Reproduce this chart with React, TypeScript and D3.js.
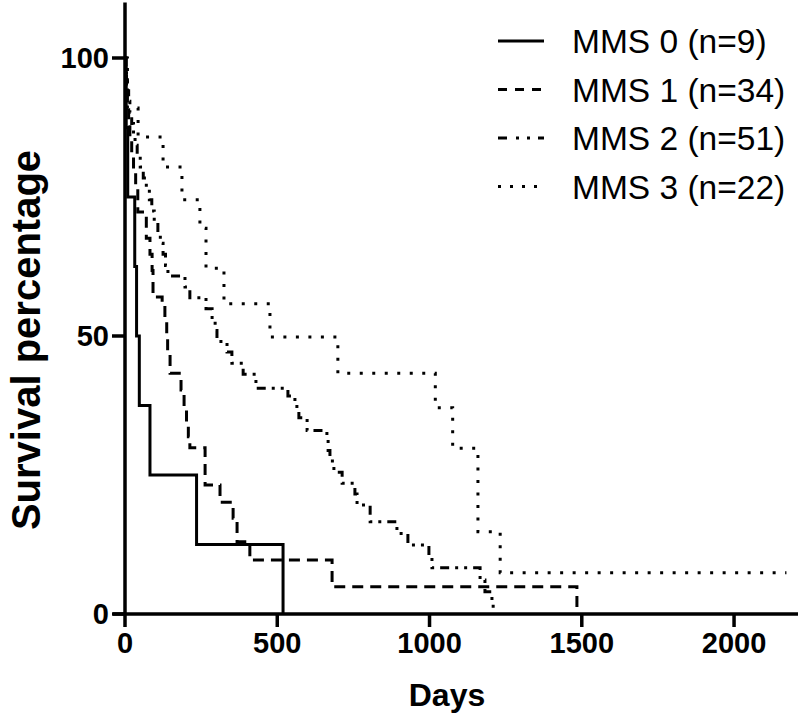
import React from "react";
import * as d3 from "d3";

// ---- data ----
const seriesNames = ["MMS 0 (n=9)", "MMS 1 (n=34)", "MMS 2 (n=51)", "MMS 3 (n=22)"];

const mms0Days = [0, 4, 9, 32, 38, 47, 82, 235, 519];
const mms0Surv = [100, 87.5, 75, 62.5, 50, 37.5, 25, 12.5, 0];

const mms1Days = [0, 2, 5, 8, 12, 16, 22, 28, 35, 42, 70, 82, 89, 92, 122, 131, 137, 140, 148, 184, 194, 202, 208, 213, 263, 312, 355, 368, 410, 680, 1484];
const mms1Surv = [100, 97.1, 94.1, 91.2, 88.2, 85.3, 82.4, 79.4, 76.5, 72.3, 67.6, 64.7, 61.8, 57.0, 55.9, 52.9, 50.0, 47.1, 43.3, 40.3, 37.4, 34.5, 31.9, 29.9, 23.2, 20.1, 17.2, 13.0, 9.7, 4.9, 0];

const mms2Days = [0, 3, 5, 8, 12, 16, 22, 28, 33, 40, 50, 60, 70, 80, 88, 96, 108, 116, 125, 133, 141, 197, 213, 266, 286, 296, 302, 335, 351, 388, 430, 535, 558, 571, 598, 663, 667, 673, 686, 713, 755, 762, 805, 893, 929, 998, 1008, 1166, 1182, 1205, 1209];
const mms2Surv = [100, 98, 96.1, 94.1, 92.2, 90.2, 88.2, 86.3, 84.3, 82.4, 80.4, 78.4, 76.5, 74.5, 72.5, 70.6, 68.6, 66.7, 64.7, 62.7, 60.8, 58.8, 56.9, 54.9, 52.9, 51, 49, 47.1, 45.1, 43.1, 40.6, 39.2, 37.3, 35.3, 33.0, 31.4, 29.4, 27.5, 25.5, 23.5, 21.6, 19.6, 16.6, 14.5, 12.4, 10.2, 8.3, 6.1, 4.0, 2.0, 0];

const mms3Days = [0, 8, 43, 125, 187, 246, 266, 325, 476, 699, 1019, 1076, 1159, 1232, 2172];
const mms3Surv = [100, 91, 85.8, 80.4, 74.5, 69.4, 62.2, 55.8, 49.8, 43.3, 37.1, 29.8, 14.8, 7.4, 7.4];

const xTicks = [0, 500, 1000, 1500, 2000];
const yTicks = [0, 50, 100];

const dashes = ["none", "11,7", "9,6,3,6,3,6", "3,9.5"];
const legendDashes = ["none", "9,8", "9,9,3,8,3,8", "3,9"];

export default function App() {
  const W = 800, H = 721;
  const x = d3.scaleLinear().domain([0, 2210]).range([125, 798]);
  const y = d3.scaleLinear().domain([0, 110]).range([614, 2.4]);

  const series = [
    { days: mms0Days, surv: mms0Surv },
    { days: mms1Days, surv: mms1Surv },
    { days: mms2Days, surv: mms2Surv },
    { days: mms3Days, surv: mms3Surv },
  ];

  const line = d3
    .line<[number, number]>()
    .x((d) => x(d[0]))
    .y((d) => y(d[1]))
    .curve(d3.curveStepAfter);

  const font = "'Liberation Sans', Arial, sans-serif";

  return (
    <div style={{ position: "absolute", left: 0, top: 0 }}>
      <svg width={W} height={H} style={{ display: "block", background: "#fff" }}>
        {/* curves */}
        {series.map((s, i) => (
          <path
            key={i}
            d={line(s.days.map((d, j) => [d, s.surv[j]] as [number, number])) || ""}
            fill="none"
            stroke="#000"
            strokeWidth={3}
            strokeDasharray={dashes[i]}
          />
        ))}

        {/* axes */}
        <line x1={x(0)} x2={x(0)} y1={y(110)} y2={y(0)} stroke="#000" strokeWidth={3.5} />
        <line x1={113} x2={x(2210)} y1={y(0)} y2={y(0)} stroke="#000" strokeWidth={3.5} />
        {yTicks.map((t) => (
          <g key={"y" + t}>
            <line x1={112} x2={x(0)} y1={y(t)} y2={y(t)} stroke="#000" strokeWidth={3.5} />
            <text
              x={109}
              y={y(t)}
              textAnchor="end"
              dominantBaseline="central"
              fontFamily={font}
              fontWeight="bold"
              fontSize={29}
            >
              {t}
            </text>
          </g>
        ))}
        {xTicks.map((t) => (
          <g key={"x" + t}>
            <line x1={x(t)} x2={x(t)} y1={y(0)} y2={627} stroke="#000" strokeWidth={3.5} />
            <text
              x={x(t)}
              y={653}
              textAnchor="middle"
              fontFamily={font}
              fontWeight="bold"
              fontSize={29}
            >
              {t}
            </text>
          </g>
        ))}
        <text x={447} y={706} textAnchor="middle" fontFamily={font} fontWeight="bold" fontSize={32}>
          Days
        </text>
        <text
          transform={`translate(40, 340) rotate(-90)`}
          textAnchor="middle"
          fontFamily={font}
          fontWeight="bold"
          fontSize={40}
        >
          Survival percentage
        </text>

        {/* legend */}
        {seriesNames.map((name, i) => {
          const ly = 41 + i * 48.5;
          return (
            <g key={name}>
              <line x1={498} x2={544} y1={ly} y2={ly} stroke="#000" strokeWidth={3} strokeDasharray={legendDashes[i]} />
              <text x={572} y={ly + 12} fontFamily={font} fontSize={33.5}>
                {name}
              </text>
            </g>
          );
        })}
      </svg>
    </div>
  );
}
